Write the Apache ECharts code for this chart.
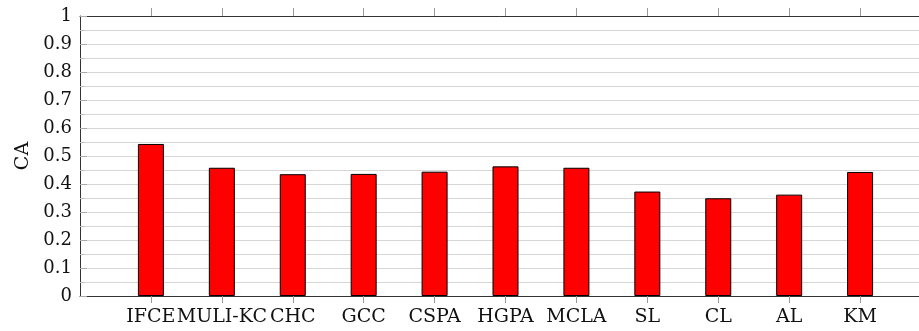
<!DOCTYPE html>
<html>
<head>
<meta charset="utf-8">
<script src="https://cdn.jsdelivr.net/npm/echarts@6/dist/echarts.min.js"></script>
<style>
html,body{margin:0;padding:0;background:#fff;}
#c{width:919px;height:331px;}
</style>
</head>
<body>
<div id="c"></div>
<script>
const categories = ['', 'IFCE', 'MULI-KC', 'CHC', 'GCC', 'CSPA', 'HGPA', 'MCLA', 'SL', 'CL', 'AL', 'KM', ''];
const caValues = [null, 0.543, 0.458, 0.435, 0.436, 0.444, 0.463, 0.458, 0.373, 0.349, 0.362, 0.443, null];
const yTicks = { min: 0, max: 1, interval: 0.1 };
const yName = 'CA';

const font = 'DejaVu Serif';
const chart = echarts.init(document.getElementById('c'), null, { renderer: 'canvas' });
const tickShow = (i, v) => v !== '';
chart.setOption({
  animation: false,
  backgroundColor: '#fff',
  grid: { left: 80, top: 16, width: 851, bottom: 35, containLabel: false, outerBoundsMode: 'none' },
  xAxis: [
    {
      type: 'category', data: categories, boundaryGap: false, position: 'bottom',
      axisLine: { show: true, lineStyle: { color: '#333', width: 1 } },
      axisTick: { show: true, inside: false, length: 7, interval: tickShow, lineStyle: { color: '#999' } },
      axisLabel: { interval: 0, margin: 12, color: '#111', fontFamily: font, fontSize: 19 },
      splitLine: { show: false }
    },
    {
      type: 'category', data: categories, boundaryGap: false, position: 'top',
      axisLine: { show: true, lineStyle: { color: '#333', width: 1 } },
      axisTick: { show: true, inside: false, length: 8, interval: tickShow, lineStyle: { color: '#999' } },
      axisLabel: { show: false },
      splitLine: { show: false }
    }
  ],
  yAxis: {
    type: 'value', min: yTicks.min, max: yTicks.max, interval: yTicks.interval,
    name: yName, nameLocation: 'middle', nameGap: 40, nameRotate: 90,
    nameTextStyle: { color: '#111', fontFamily: font, fontSize: 19 },
    axisLine: { show: true, lineStyle: { color: '#333', width: 1 } },
    axisTick: { show: true, inside: true, length: 7, lineStyle: { color: '#aaa' } },
    minorTick: { show: true, splitNumber: 2, length: 4, lineStyle: { color: '#bbb' } },
    axisLabel: { margin: 8, color: '#111', fontFamily: font, fontSize: 18,
      formatter: v => String(Math.round(v * 10) / 10) },
    splitLine: { show: true, lineStyle: { color: '#d6d6d6', width: 1 } },
    minorSplitLine: { show: true, lineStyle: { color: '#d6d6d6', width: 1 } }
  },
  series: [{
    type: 'bar', data: caValues, barWidth: 26, xAxisIndex: 0,
    itemStyle: { color: '#ff0000', borderColor: '#000', borderWidth: 1 }
  }]
});
</script>
</body>
</html>
